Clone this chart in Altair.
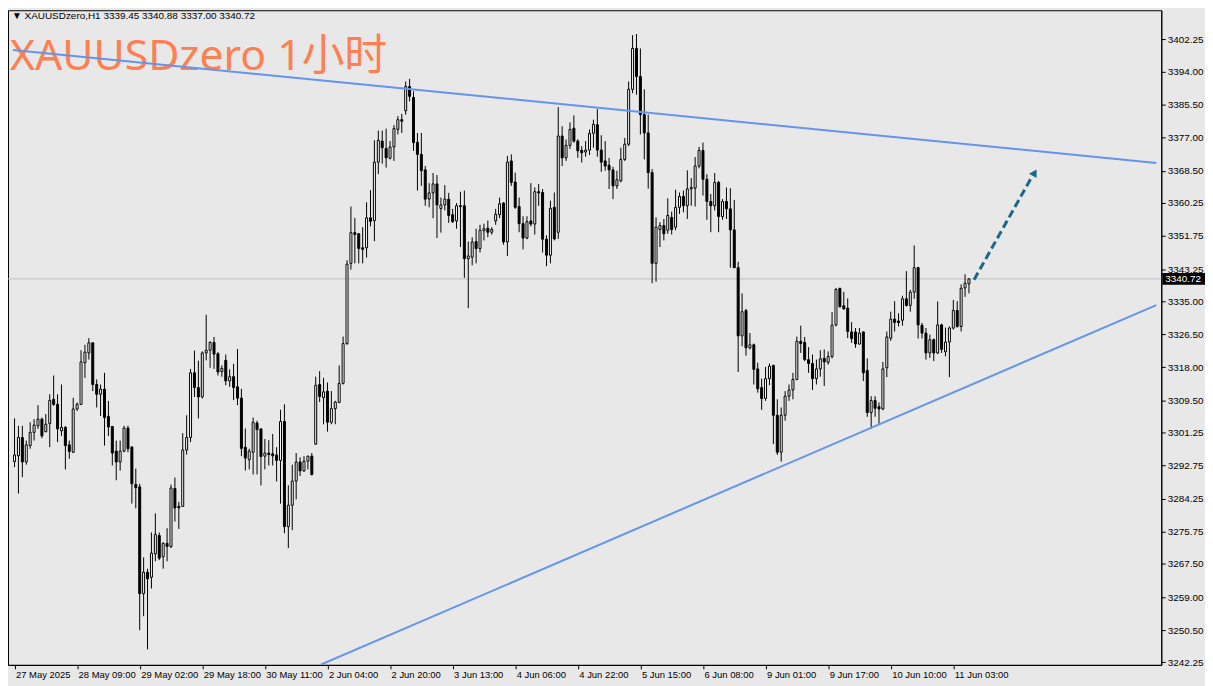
import json
import altair as alt
import pandas as pd

# ---------------- data ----------------
opens = [
    3293.8, 3295.3, 3300.0, 3293.7, 3297.9, 3301.3, 3303.0, 3304.7, 3301.5, 3303.6,
    3309.8, 3308.5, 3301.7, 3302.6, 3298.1, 3296.2, 3307.3, 3308.5, 3319.2, 3321.7,
    3324.3, 3313.6, 3311.1, 3312.4, 3305.4, 3302.8, 3296.5, 3293.7, 3296.5, 3302.4,
    3297.5, 3287.9, 3287.3, 3259.9, 3265.4, 3264.1, 3270.1, 3274.8, 3269.4, 3272.8,
    3272.0, 3286.9, 3282.3, 3282.3, 3296.8, 3300.0, 3316.6, 3312.8, 3310.4, 3321.7,
    3322.4, 3324.4, 3321.5, 3316.9, 3319.8, 3314.5, 3315.6, 3313.0, 3310.1, 3297.5,
    3294.3, 3296.2, 3303.7, 3302.2, 3295.2, 3296.0, 3295.8, 3295.5, 3294.1, 3304.1,
    3277.1, 3282.6, 3288.8, 3293.7, 3291.4, 3293.9, 3295.2, 3298.3, 3313.6, 3310.2,
    3311.9, 3303.9, 3307.4, 3309.0, 3313.9, 3324.1, 3344.7, 3352.6, 3352.3, 3348.7,
    3348.7, 3356.4, 3355.7, 3370.7, 3376.1, 3374.2, 3371.7, 3374.6, 3379.1, 3381.6,
    3383.9, 3390.1, 3387.3, 3375.8, 3372.7, 3368.7, 3361.2, 3362.8, 3365.1, 3358.8,
    3359.7, 3361.2, 3357.2, 3355.6, 3359.5, 3359.5, 3345.9, 3346.3, 3350.3, 3348.5,
    3353.1, 3353.7, 3352.7, 3355.6, 3357.2, 3360.2, 3350.2, 3371.0, 3365.6, 3359.3,
    3354.9, 3351.2, 3355.6, 3354.8, 3363.1, 3362.9, 3350.9, 3346.8, 3359.1, 3352.7,
    3377.4, 3371.8, 3375.0, 3379.4, 3376.1, 3373.7, 3373.3, 3373.8, 3378.1, 3380.3,
    3373.8, 3371.0, 3369.9, 3368.7, 3364.6, 3365.9, 3371.4, 3375.3, 3389.4, 3399.9,
    3392.7, 3382.9, 3378.2, 3368.0, 3344.7, 3353.4, 3354.4, 3353.2, 3356.5, 3354.0,
    3359.1, 3361.9, 3359.5, 3363.8, 3364.0, 3369.7, 3373.7, 3366.3, 3360.6, 3359.5,
    3365.5, 3356.7, 3360.6, 3358.7, 3353.3, 3343.6, 3326.1, 3332.6, 3323.0, 3323.8,
    3317.6, 3312.8, 3310.0, 3315.1, 3318.5, 3305.7, 3296.2, 3305.7, 3310.6, 3312.2,
    3314.9, 3324.7, 3324.4, 3320.0, 3319.0, 3315.1, 3317.6, 3320.3, 3319.3, 3320.8,
    3328.9, 3338.3, 3333.8, 3333.2, 3327.1, 3327.1, 3324.0, 3327.1, 3317.2, 3306.4,
    3309.5, 3307.9, 3307.3, 3317.9, 3325.5, 3330.4, 3329.9, 3330.1, 3335.6, 3333.9,
    3337.3, 3343.6, 3328.8, 3326.8, 3321.7, 3325.1, 3321.7, 3328.9, 3322.0, 3324.5,
    3328.1, 3332.6, 3328.5, 3338.4, 3339.45,
]
highs = [
    3304.9, 3303.0, 3303.0, 3299.2, 3303.9, 3304.7, 3308.3, 3305.1, 3306.0, 3311.1,
    3315.9, 3311.1, 3313.6, 3302.9, 3299.2, 3310.2, 3309.0, 3322.4, 3323.8, 3325.5,
    3324.4, 3314.9, 3313.6, 3316.6, 3309.4, 3302.8, 3299.2, 3299.2, 3303.0, 3303.0,
    3297.8, 3292.0, 3288.1, 3269.2, 3266.3, 3275.6, 3280.5, 3275.6, 3273.1, 3276.7,
    3287.9, 3289.7, 3283.5, 3301.1, 3305.7, 3317.6, 3322.3, 3319.7, 3322.1, 3331.5,
    3324.7, 3325.8, 3321.9, 3318.5, 3321.3, 3317.5, 3318.9, 3322.7, 3312.5, 3302.3,
    3297.1, 3305.1, 3304.3, 3302.2, 3299.6, 3299.3, 3300.9, 3297.5, 3307.1, 3308.5,
    3287.7, 3293.0, 3296.0, 3294.9, 3295.2, 3295.3, 3296.0, 3315.6, 3317.0, 3315.3,
    3314.1, 3311.9, 3309.4, 3318.5, 3325.9, 3345.5, 3359.3, 3356.4, 3352.5, 3354.0,
    3360.4, 3363.5, 3376.3, 3378.8, 3378.8, 3379.3, 3376.1, 3380.2, 3382.5, 3383.1,
    3391.4, 3392.1, 3388.9, 3378.2, 3378.2, 3369.7, 3365.3, 3367.9, 3367.4, 3361.6,
    3364.8, 3362.8, 3358.7, 3360.2, 3363.1, 3363.4, 3350.3, 3351.4, 3353.6, 3354.6,
    3354.9, 3355.7, 3354.0, 3358.7, 3361.6, 3360.4, 3372.3, 3372.7, 3368.0, 3361.6,
    3356.8, 3356.8, 3365.3, 3364.2, 3365.1, 3363.8, 3351.9, 3360.8, 3362.9, 3384.8,
    3379.9, 3376.5, 3380.9, 3382.7, 3376.6, 3374.8, 3376.1, 3379.1, 3381.6, 3384.3,
    3377.6, 3376.1, 3371.8, 3369.5, 3368.5, 3374.4, 3376.9, 3391.4, 3403.3, 3403.6,
    3399.9, 3389.4, 3382.9, 3368.9, 3356.5, 3355.3, 3356.1, 3361.4, 3358.0, 3363.6,
    3362.9, 3363.4, 3368.6, 3366.6, 3372.0, 3374.6, 3375.7, 3367.6, 3362.5, 3367.9,
    3365.9, 3361.2, 3364.2, 3364.0, 3361.0, 3345.1, 3337.0, 3333.0, 3326.8, 3324.1,
    3319.2, 3315.1, 3318.1, 3319.0, 3318.7, 3309.8, 3307.7, 3311.9, 3313.6, 3316.6,
    3325.9, 3328.7, 3325.8, 3323.2, 3321.3, 3320.0, 3322.4, 3322.6, 3322.1, 3332.2,
    3338.4, 3338.4, 3337.4, 3335.7, 3329.6, 3328.1, 3328.1, 3327.2, 3320.3, 3310.6,
    3310.6, 3309.0, 3319.4, 3327.2, 3332.3, 3335.0, 3331.9, 3336.4, 3342.7, 3337.9,
    3349.3, 3343.8, 3329.4, 3328.1, 3326.4, 3325.4, 3334.9, 3329.2, 3328.2, 3328.5,
    3335.3, 3335.0, 3339.3, 3341.9, 3340.88,
]
lows = [
    3292.4, 3285.6, 3289.8, 3293.0, 3297.1, 3299.2, 3302.2, 3299.8, 3301.3, 3297.5,
    3308.1, 3298.8, 3300.4, 3291.8, 3294.5, 3296.0, 3306.8, 3308.3, 3315.3, 3320.0,
    3311.9, 3307.7, 3305.5, 3297.9, 3300.4, 3292.8, 3289.0, 3291.5, 3296.2, 3296.2,
    3283.0, 3281.8, 3250.5, 3254.1, 3245.6, 3261.2, 3268.2, 3268.5, 3266.3, 3268.2,
    3271.6, 3278.4, 3276.5, 3282.2, 3295.6, 3298.8, 3310.4, 3304.9, 3310.0, 3319.8,
    3317.9, 3317.6, 3315.9, 3315.6, 3313.4, 3313.0, 3309.6, 3308.3, 3295.2, 3291.5,
    3291.8, 3290.5, 3290.5, 3287.7, 3291.8, 3292.8, 3292.8, 3288.7, 3283.0, 3275.4,
    3271.6, 3276.2, 3284.1, 3290.1, 3291.2, 3291.8, 3290.2, 3298.1, 3309.1, 3303.4,
    3301.5, 3303.4, 3303.4, 3308.8, 3313.6, 3323.8, 3343.1, 3344.7, 3344.7, 3344.7,
    3346.2, 3354.2, 3350.4, 3367.6, 3370.3, 3369.3, 3371.4, 3371.0, 3377.8, 3378.2,
    3382.9, 3386.3, 3373.6, 3363.4, 3364.6, 3359.5, 3359.1, 3356.3, 3351.2, 3352.6,
    3358.3, 3355.1, 3355.1, 3353.6, 3348.9, 3341.0, 3333.2, 3344.2, 3344.7, 3347.5,
    3350.6, 3351.4, 3352.1, 3354.6, 3356.3, 3349.5, 3346.6, 3364.6, 3358.7, 3352.7,
    3348.3, 3350.9, 3354.2, 3352.1, 3359.5, 3347.5, 3344.0, 3344.7, 3350.6, 3351.0,
    3369.7, 3371.0, 3374.1, 3375.7, 3371.8, 3370.6, 3372.1, 3372.5, 3374.4, 3372.1,
    3368.2, 3368.5, 3363.8, 3361.2, 3363.8, 3365.5, 3371.0, 3374.8, 3388.4, 3388.0,
    3377.8, 3371.4, 3363.9, 3339.6, 3340.0, 3348.9, 3350.6, 3352.3, 3352.1, 3353.2,
    3357.4, 3357.8, 3356.1, 3359.5, 3359.3, 3369.1, 3362.1, 3355.9, 3352.7, 3358.3,
    3352.7, 3355.9, 3356.1, 3343.6, 3343.5, 3316.8, 3323.4, 3321.0, 3322.6, 3313.6,
    3311.5, 3307.1, 3309.4, 3313.4, 3298.3, 3295.5, 3293.8, 3304.3, 3309.4, 3309.8,
    3314.7, 3321.7, 3319.6, 3316.6, 3312.2, 3313.6, 3315.6, 3313.2, 3318.7, 3320.3,
    3328.5, 3333.3, 3332.8, 3325.5, 3324.3, 3323.0, 3323.8, 3314.5, 3305.3, 3302.2,
    3305.3, 3303.4, 3307.0, 3315.5, 3324.8, 3327.2, 3328.5, 3328.7, 3333.6, 3332.3,
    3335.6, 3325.4, 3325.4, 3320.0, 3320.4, 3319.6, 3321.4, 3321.7, 3320.8, 3315.5,
    3327.7, 3328.2, 3327.2, 3336.1, 3337.00,
]
closes = [
    3295.5, 3300.0, 3293.7, 3298.1, 3301.3, 3303.2, 3304.7, 3300.4, 3303.4, 3309.5,
    3308.5, 3302.2, 3302.6, 3297.9, 3296.4, 3307.3, 3308.5, 3319.4, 3321.9, 3324.3,
    3313.6, 3311.1, 3312.4, 3305.1, 3302.7, 3296.0, 3293.7, 3296.5, 3302.4, 3297.1,
    3288.1, 3287.1, 3259.9, 3265.4, 3263.7, 3270.3, 3275.1, 3269.0, 3272.8, 3272.0,
    3287.0, 3281.9, 3281.9, 3296.8, 3300.0, 3316.6, 3312.8, 3310.4, 3321.7, 3322.4,
    3324.4, 3321.4, 3316.8, 3317.7, 3314.5, 3315.6, 3312.8, 3310.1, 3297.2, 3294.7,
    3296.5, 3303.9, 3302.0, 3295.1, 3296.0, 3295.6, 3295.3, 3294.1, 3304.1, 3277.1,
    3282.6, 3288.8, 3293.7, 3291.4, 3293.9, 3295.2, 3290.5, 3313.4, 3310.5, 3311.7,
    3303.9, 3307.4, 3309.1, 3313.9, 3324.1, 3344.5, 3352.6, 3352.1, 3348.5, 3348.3,
    3356.4, 3355.5, 3370.7, 3376.3, 3374.4, 3371.8, 3374.6, 3379.3, 3381.6, 3381.2,
    3390.1, 3387.6, 3375.7, 3372.7, 3368.5, 3361.2, 3362.8, 3365.1, 3359.7, 3359.7,
    3361.2, 3357.0, 3355.4, 3359.5, 3359.3, 3345.9, 3346.6, 3350.2, 3348.5, 3353.2,
    3353.6, 3352.7, 3353.4, 3357.3, 3360.0, 3350.2, 3370.7, 3365.5, 3359.1, 3354.9,
    3351.2, 3355.4, 3354.8, 3363.1, 3362.8, 3350.9, 3346.8, 3358.8, 3351.0, 3377.4,
    3371.8, 3375.0, 3379.1, 3376.1, 3373.6, 3373.1, 3373.8, 3378.1, 3380.4, 3373.8,
    3370.7, 3369.7, 3368.7, 3364.6, 3366.2, 3371.4, 3375.3, 3389.4, 3399.9, 3392.7,
    3382.9, 3378.2, 3368.0, 3344.7, 3354.0, 3354.4, 3352.3, 3357.0, 3353.4, 3359.1,
    3361.9, 3359.5, 3363.8, 3364.2, 3369.7, 3373.7, 3366.3, 3360.6, 3359.5, 3365.5,
    3356.7, 3360.6, 3358.7, 3353.3, 3343.6, 3326.1, 3332.3, 3323.0, 3323.8, 3317.5,
    3312.5, 3310.0, 3315.1, 3318.3, 3305.7, 3296.2, 3305.7, 3310.6, 3312.2, 3314.9,
    3324.7, 3324.1, 3320.0, 3319.0, 3315.1, 3317.6, 3320.2, 3319.4, 3320.8, 3328.8,
    3338.0, 3333.6, 3333.0, 3327.2, 3325.4, 3324.0, 3326.8, 3316.6, 3306.4, 3309.5,
    3307.5, 3307.3, 3317.6, 3325.8, 3330.4, 3329.5, 3329.5, 3335.6, 3333.9, 3337.3,
    3343.6, 3328.9, 3326.8, 3321.7, 3325.1, 3321.7, 3328.9, 3322.6, 3324.5, 3328.1,
    3332.6, 3328.5, 3338.3, 3339.6, 3340.72,
]

time_labels = [
    "27 May 2025", "28 May 09:00", "29 May 02:00", "29 May 18:00", "30 May 11:00",
    "2 Jun 04:00", "2 Jun 20:00", "3 Jun 13:00", "4 Jun 06:00", "4 Jun 22:00",
    "5 Jun 15:00", "6 Jun 08:00", "9 Jun 01:00", "9 Jun 17:00", "10 Jun 10:00",
    "11 Jun 03:00",
]
bars_per_label = 16
price_ticks = [
    3242.25, 3250.50, 3259.00, 3267.50, 3275.75, 3284.25, 3292.75, 3301.25,
    3309.50, 3318.00, 3326.50, 3335.00, 3343.25, 3351.75, 3360.25, 3368.50,
    3377.00, 3385.50, 3394.00, 3402.25,
]

upper_line_idx = [-0.4, 291.9]
upper_line_price = [3399.5, 3370.5]
lower_line_idx = [78.4, 291.9]
lower_line_price = [3241.7, 3334.0]
arrow_idx = [245.3, 259.9]
arrow_price = [3340.5, 3366.6]
arrow_head_idx = [260.8]
arrow_head_price = [3368.0]

last_price = 3340.72
header_text = "\u25BC XAUUSDzero,H1  3339.45 3340.88 3337.00 3340.72"
title_text = "XAUUSDzero 1小时"

# ---------------- styling ----------------
FONT = "Liberation Sans"
BG = "#E8E8E8"
TREND = "#6495ED"
ARROW = "#1A678C"

df = pd.DataFrame({
    "idx": list(range(len(opens))),
    "open": opens, "high": highs, "low": lows, "close": closes,
})
df["dir"] = ["up" if c >= o else "down" for o, c in zip(opens, closes)]

xscale = alt.Scale(domain=[-0.4, 291.9], nice=False, zero=False)
yscale = alt.Scale(domain=[3241.6, 3409.7], nice=False, zero=False)

label_expr = f"{json.dumps(time_labels)}[round(datum.value / {bars_per_label})]"
xaxis = alt.Axis(
    values=[i * bars_per_label for i in range(len(time_labels))],
    labelExpr=label_expr, title=None, grid=False,
    tickSize=4, tickColor="black", domainColor="black",
    labelAlign="left", labelBaseline="top", labelPadding=1, labelOffset=1,
    labelFlush=False, labelOverlap=False, labelColor="black",
    labelFont=FONT, labelFontSize=9.5,
)
yaxis = alt.Axis(
    orient="right", values=price_ticks, format=".2f", title=None, grid=False,
    tickSize=4, tickColor="black", domainColor="black",
    labelAlign="left", labelBaseline="middle", labelPadding=2,
    labelFlush=False, labelOverlap=False, labelColor="black",
    labelFont=FONT, labelFontSize=10,
)


def X(field="idx"):
    return alt.X(f"{field}:Q", scale=xscale, axis=xaxis)


def Y(field):
    return alt.Y(f"{field}:Q", scale=yscale, axis=yaxis)


base = alt.Chart(df)

price_line = alt.Chart(pd.DataFrame({"price": [last_price]})).mark_rule(
    color="#C0C0C0", strokeWidth=1
).encode(y=Y("price"))

title = alt.Chart(pd.DataFrame({"t": [title_text]})).mark_text(
    align="left", baseline="alphabetic", font="Noto Sans, Noto Sans CJK SC",
    fontSize=43, color="#FF7F50"
).encode(x=alt.value(2), y=alt.value(60), text="t:N")

header = alt.Chart(pd.DataFrame({"t": [header_text]})).mark_text(
    align="left", baseline="top", font=FONT, fontSize=10, color="black"
).encode(x=alt.value(4), y=alt.value(1), text="t:N")

wicks = base.mark_rule(color="black", strokeWidth=1).encode(
    x=X(), y=Y("low"), y2=alt.Y2("high")
)
bodies = base.mark_bar(size=2, stroke="black", strokeWidth=1).encode(
    x=X(), y=Y("open"), y2=alt.Y2("close"),
    fill=alt.Fill("dir:N", scale=alt.Scale(domain=["up", "down"], range=["#FFFFFF", "#000000"]), legend=None),
)

upper = alt.Chart(pd.DataFrame({"idx": upper_line_idx, "price": upper_line_price})).mark_line(
    color=TREND, strokeWidth=2, clip=True
).encode(x=X(), y=Y("price"))
lower = alt.Chart(pd.DataFrame({"idx": lower_line_idx, "price": lower_line_price})).mark_line(
    color=TREND, strokeWidth=2, clip=True
).encode(x=X(), y=Y("price"))

arrow = alt.Chart(pd.DataFrame({"idx": arrow_idx, "price": arrow_price})).mark_line(
    color=ARROW, strokeWidth=3, strokeDash=[8, 4]
).encode(x=X(), y=Y("price"))
arrow_head = alt.Chart(pd.DataFrame({"idx": arrow_head_idx, "price": arrow_head_price})).mark_point(
    shape="triangle-up", filled=True, size=75, angle=30, color=ARROW, opacity=1
).encode(x=X(), y=Y("price"))

price_box = alt.Chart(pd.DataFrame({"price": [last_price]})).mark_rule(
    color="black", strokeWidth=12
).encode(x=alt.value(1162), x2=alt.value(1205), y=Y("price"))
price_text = alt.Chart(pd.DataFrame({"price": [last_price], "label": [f"{last_price:.2f}"]})).mark_text(
    align="left", baseline="middle", font=FONT, fontSize=10, color="white"
).encode(x=alt.value(1165), y=Y("price"), text="label:N")

chart = alt.layer(
    price_line, title, header, wicks, bodies, upper, lower, arrow, arrow_head,
    price_box, price_text
).properties(
    width=1161, height=659,
    autosize=alt.AutoSizeParams(type="none"),
    padding={"left": 0, "top": 0, "right": 44, "bottom": 19},
    background=BG,
).configure_view(stroke="black", strokeWidth=1)

chart.save("out.html", embed_options={"renderer": "svg", "actions": False})
